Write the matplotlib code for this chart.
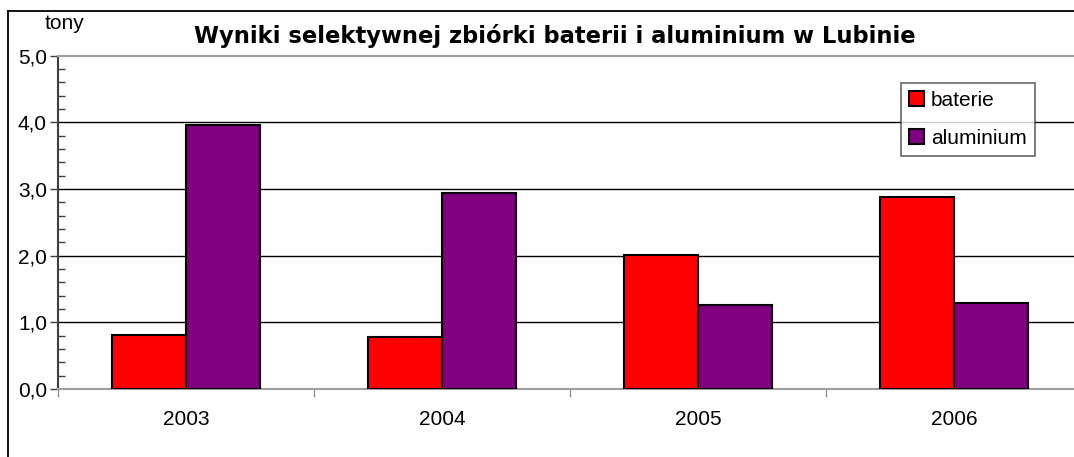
import numpy as np
import matplotlib
matplotlib.use('Agg')
import matplotlib.pyplot as plt
from matplotlib.ticker import MultipleLocator, FuncFormatter
from matplotlib.lines import Line2D

plt.rcParams['font.family'] = ['Liberation Sans', 'DejaVu Sans']

# Dane (tony)
lata = ['2003', '2004', '2005', '2006']
baterie = [0.81, 0.78, 2.01, 2.88]
aluminium = [3.96, 2.94, 1.26, 1.29]

fig = plt.figure(figsize=(10.74, 4.57), dpi=100)
ax = fig.add_axes([0.054, 0.149, 0.9534, 0.729])

x = np.arange(len(lata))
w = 0.29
ax.bar(x - w / 2, baterie, width=w, color='#ff0000', edgecolor='black', linewidth=1.5, label='baterie', zorder=3)
ax.bar(x + w / 2, aluminium, width=w, color='#800080', edgecolor='black', linewidth=1.5, label='aluminium', zorder=3)

ax.set_xlim(-0.5, len(lata) - 0.5)
ax.set_ylim(0, 5)
ax.yaxis.set_major_locator(MultipleLocator(1))
ax.yaxis.set_minor_locator(MultipleLocator(0.2))
ax.yaxis.set_major_formatter(FuncFormatter(lambda v, p: f'{v:.1f}'.replace('.', ',')))
ax.tick_params(axis='y', which='major', direction='out', length=6, width=1, color='#404040', labelsize=15, pad=2)
ax.tick_params(axis='y', which='minor', direction='in', length=5, width=1, color='#404040')

# ticks osi x na granicach kategorii
ax.set_xticks(x)
ax.set_xticklabels(lata, fontsize=15)
ax.set_xticks(np.arange(len(lata) + 1) - 0.5, minor=True)
ax.tick_params(axis='x', which='major', length=0, pad=15)
ax.tick_params(axis='x', which='minor', direction='out', length=6, width=1, color='#909090')

for v in [1, 2, 3, 4]:
    ax.axhline(v, color='black', linewidth=1, zorder=1)

ax.spines['left'].set_color('#404040')
ax.spines['left'].set_linewidth(1.5)
ax.spines['bottom'].set_color('#a0a0a0')
ax.spines['bottom'].set_linewidth(1.5)
ax.spines['top'].set_color('#a0a0a0')
ax.spines['top'].set_linewidth(1.5)
ax.spines['right'].set_visible(False)

fig.text(0.517, 0.922, 'Wyniki selektywnej zbiórki baterii i aluminium w Lubinie',
         ha='center', va='center', fontsize=16.3, fontweight='bold',
         family=['DejaVu Sans'])
fig.text(0.06, 0.948, 'tony', ha='center', va='center', fontsize=15,
         family=['Liberation Sans Narrow', 'Liberation Sans'])

leg = ax.legend(loc='upper left', bbox_to_anchor=(0.823, 0.919), fontsize=15,
                frameon=True, fancybox=False, edgecolor='#404040',
                handlelength=0.7, handleheight=0.7, handletextpad=0.35,
                labelspacing=0.9, borderpad=0.4, borderaxespad=0)
leg.get_frame().set_linewidth(1.2)

# ramka wykresu
fig.add_artist(Line2D([8 / 1074, 8 / 1074], [0, 1 - 11 / 457], color='black', linewidth=1.3, transform=fig.transFigure))
fig.add_artist(Line2D([8 / 1074, 1], [1 - 11 / 457, 1 - 11 / 457], color='black', linewidth=1.3, transform=fig.transFigure))

fig.savefig('out.png', dpi=100)
